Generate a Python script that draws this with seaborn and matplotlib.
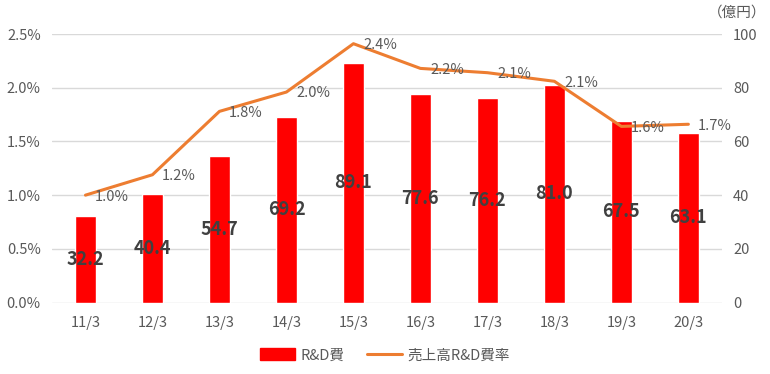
import numpy as np
import pandas as pd
import matplotlib.pyplot as plt
import seaborn as sns
from matplotlib.patches import Patch
from matplotlib.lines import Line2D

periods = ["11/3", "12/3", "13/3", "14/3", "15/3", "16/3", "17/3", "18/3", "19/3", "20/3"]
rd_cost = [32.2, 40.4, 54.7, 69.2, 89.1, 77.6, 76.2, 81.0, 67.5, 63.1]  # 億円
rd_ratio = [1.00, 1.19, 1.78, 1.96, 2.41, 2.18, 2.14, 2.06, 1.64, 1.66]  # %

sns.set_style("white")
plt.rcParams["font.family"] = ["Noto Sans CJK JP", "DejaVu Sans"]

gray = "#595959"
df = pd.DataFrame({"period": periods, "cost": rd_cost, "ratio": rd_ratio})

fig = plt.figure(figsize=(7.7, 3.74), dpi=100)
ax = fig.add_axes([0.0675, 0.191, 0.870, 0.718])

# bars on the base axis, scale shown on the right
sns.barplot(data=df, x="period", y="cost", color="#FF0000", saturation=1,
            width=0.31, ax=ax)
ax.set_ylim(0, 100)
ax.set_yticks(np.arange(0, 101, 20))
ax.grid(axis="y", color="#D9D9D9", linewidth=1)
ax.set_axisbelow(True)
ax.bar_label(ax.containers[0], labels=[f"{v:.1f}" for v in rd_cost],
             label_type="center", fontsize=13, fontweight="bold", color="#404040")

# line on the twin axis, scale shown on the left
ax2 = ax.twinx()
sns.lineplot(data=df, x="period", y="ratio", sort=False, color="#ED7D31",
             linewidth=2.2, ax=ax2)
ax2.set_ylim(0, 2.5)
ax2.set_yticks(np.arange(0, 2.51, 0.5))
ax2.set_yticklabels([f"{v:.1f}%" for v in np.arange(0, 2.51, 0.5)])
for i, v in enumerate(rd_ratio):
    ax2.annotate(f"{v:.1f}%", (i, v), xytext=(7, -1), textcoords="offset points",
                 ha="left", va="center", fontsize=10.5, color=gray)

# swap sides: cost scale on right, ratio scale on left
ax.yaxis.tick_right()
ax2.yaxis.tick_left()

for a in (ax, ax2):
    for s in a.spines.values():
        s.set_visible(False)
    a.set_xlabel("")
    a.set_ylabel("")
    a.tick_params(length=0, labelsize=10.5, labelcolor=gray, pad=8)
ax.set_xlim(-0.5, 9.5)
ax.tick_params(axis="x", pad=10)

fig.text(0.995, 0.965, "（億円）", ha="right", va="center", fontsize=10.5, color=gray)

handles = [Patch(color="#FF0000", label="R&D費"),
           Line2D([], [], color="#ED7D31", linewidth=2.2, label="売上高R&D費率")]
fig.legend(handles=handles, loc="center", bbox_to_anchor=(0.5, 0.05), ncol=2,
           frameon=False, fontsize=10.5, labelcolor=gray, handlelength=2.4,
           handleheight=0.9, columnspacing=1.5, handletextpad=0.4)

fig.savefig("out.png", dpi=100)
